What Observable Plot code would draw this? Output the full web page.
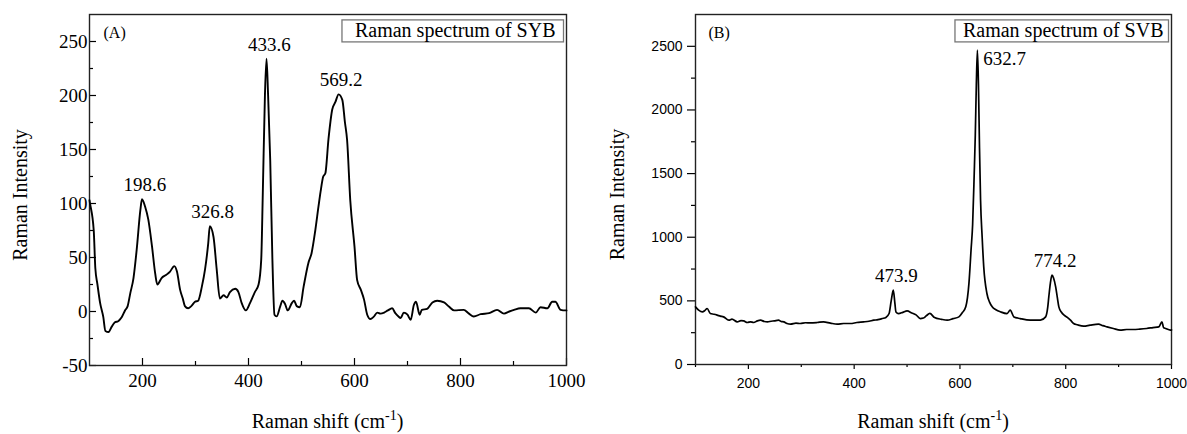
<!DOCTYPE html>
<html>
<head>
<meta charset="utf-8">
<script src="https://cdn.jsdelivr.net/npm/d3@7"></script>
<script src="https://cdn.jsdelivr.net/npm/@observablehq/plot@0.6"></script>
<style>
  html, body { margin: 0; padding: 0; background: white; }
  #wrap { position: relative; width: 1187px; height: 434px; overflow: hidden; background: white; }
  #wrap svg { position: absolute; top: 0; }
  #wrap svg text.serif { font-family: 'Liberation Serif', serif; }
</style>
</head>
<body>
<div id="wrap"></div>
<script>
// ---------- Data: panel A (SYB) ----------
const shiftA = [100,101,108,111,115,120,126,130,136,142,148,154,158,161,167,172,177,183,189,196,199,205,211,218,224,228,236,245,252,260,265,271,276,280,286,292,299,305,312,318,324,327,334,340,346,353,359,365,375,381,387,395,403,412,419,424,427,431,434,437,441,445,449,453,460,464,469,474,482,486,491,497,504,513,519,526,532,536,541,545,551,558,564,570,577,582,586,592,600,605,612,618,624,630,636,643,649,656,663,671,677,683,687,693,700,706,712,716,723,727,737,747,756,769,778,788,806,816,825,838,854,869,882,892,901,913,929,942,951,964,973,979,989,998,1000];
const intensityA = [103,100,75,40,25,8,-5,-18,-19,-14,-10,-9,-7,-5,1,5,17,31,57,94,104,97,85,60,35,25,31,34,37,42,37,20,12,5,3,5,9,10,23,39,63,79,69,39,12,15,13,18,21,18,8,1,8,18,25,48,110,200,234,200,140,50,-3,-4.5,5,10,7,1,8,10,5,4,23,45,54,75,97,111,125,128,160,187,194,201,196,175,159,103,60,29,20,11,-3,-7,-5,-1,-2,-1,1,3,-1.5,-4.6,-6,-1,-3,-7.7,6,9,-3,1.5,2.5,8.4,10,8.4,4.6,1,1.5,-2,-4.6,-2.5,-1.5,1.5,-2,0,1.5,3,3,-1,4,3,9,9,1.5,1,1];
const peakXA = [198.6, 326.8, 433.6, 569.2];
const peakYA = [104, 79, 234, 201];
const peakLabelA = ["198.6", "326.8", "433.6", "569.2"];
const xTicksA = [200, 400, 600, 800, 1000];
const xMinorA = [300, 500, 700, 900];
const yTicksA = [-50, 0, 50, 100, 150, 200, 250];
const yMinorA = [-25, 25, 75, 125, 175, 225];
const titleA = "Raman spectrum of SYB";
const panelA = "(A)";

// ---------- Data: panel B (SVB) ----------
const shiftB = [100,106,113,118,122,128,135,141,147,153,163,169,179,186,191,198,204,210,217,223,230,236,243,249,257,262,267,273,280,290,298,308,317,330,342,355,368,380,393,405,418,428,437,445,453,460,466,470,474,477,479,484,492,500,509,517,525,531,537,543,552,565,576,587,598,605,611,617,621,624,627,629,631,633,635,637,639,642,645,651,656,661,668,677,689,695,702,714,733,752,762,766,768,771,774,777,781,784,787,792,797,803,809,815,822,834,846,862,870,878,890,903,915,928,940,953,965,976,982,985,989,998,1000];
const intensityB = [453,427,413,425,440,401,395,388,380,374,348,356,335,345,343,330,335,330,343,348,338,335,340,343,348,338,335,322,317,325,322,328,327,330,335,325,317,322,322,330,335,340,348,352,361,370,401,500,584,480,413,400,410,421,405,390,361,365,385,401,369,355,348,360,374,410,453,637,900,1100,1500,1800,2200,2470,2200,1700,1291,1000,767,558,490,453,430,413,400,427,374,361,348,348,374,450,531,640,702,680,610,530,453,410,387,370,348,322,312,301,309,317,305,296,283,270,275,275,278,283,290,296,335,290,283,270,272];
const peakXB = [473.9, 774.2];
const peakYB = [584, 702];
const peakLabelB = ["473.9", "774.2"];
const sidePeakXB = [632.7];
const sidePeakYB = [2470];
const sidePeakLabelB = ["632.7"];
const xTicksB = [200, 400, 600, 800, 1000];
const xMinorB = [100, 300, 500, 700, 900];
const yTicksB = [0, 500, 1000, 1500, 2000, 2500];
const yMinorB = [250, 750, 1250, 1750, 2250];
const titleB = "Raman spectrum of SVB";
const panelB = "(B)";

const yLabel = "Raman Intensity";
const xLabelMain = "Raman shift (cm";
const xLabelSup = "-1";
const xLabelEnd = ")";

const serif = "'Liberation Serif', 'Times New Roman', serif";
const sans = "'Liberation Sans', Arial, sans-serif";
const fmt = d => String(d);

const specA = shiftA.map((s, i) => ({shift: s, intensity: intensityA[i]}));
const specB = shiftB.map((s, i) => ({shift: s, intensity: intensityB[i]}));
const peaksA = peakXA.map((x, i) => ({x, y: peakYA[i], t: peakLabelA[i]}));
const peaksB = peakXB.map((x, i) => ({x, y: peakYB[i], t: peakLabelB[i]}));
const sidePeaksB = sidePeakXB.map((x, i) => ({x, y: sidePeakYB[i], t: sidePeakLabelB[i]}));

const wrap = document.getElementById("wrap");

const plotA = Plot.plot({
  width: 600, height: 434,
  marginLeft: 89, marginRight: 34, marginTop: 14, marginBottom: 69,
  x: {domain: [100, 1000]},
  y: {domain: [-50, 275]},
  style: {fontFamily: serif, fontSize: "19px", color: "black", background: "white", overflow: "visible"},
  marks: [
    Plot.axisX({ticks: xTicksA, tickSize: -7, tickPadding: 15, tickFormat: fmt, fontFamily: serif, fontSize: 19, label: null, strokeWidth: 1.2}),
    Plot.axisX({ticks: xMinorA, tickSize: -4, tickFormat: () => "", label: null, strokeWidth: 1.2}),
    Plot.axisY({ticks: yTicksA, tickSize: -7, tickPadding: 9, tickFormat: fmt, fontFamily: serif, fontSize: 19, label: null, strokeWidth: 1.2}),
    Plot.axisY({ticks: yMinorA, tickSize: -4, tickFormat: () => "", label: null, strokeWidth: 1.2}),
    Plot.frame({stroke: "#222", strokeWidth: 1.4}),
    Plot.line(specA, {x: "shift", y: "intensity", stroke: "black", strokeWidth: 1.9, curve: "monotone-x"}),
    Plot.text(peaksA, {x: "x", y: "y", text: "t", dy: -8, dx: 3, lineAnchor: "bottom", fontFamily: serif, fontSize: 19}),
    Plot.text([panelA], {frameAnchor: "top-left", dx: 14, dy: 18, textAnchor: "start", lineAnchor: "middle", fontFamily: serif, fontSize: 16}),
    Plot.text([titleA], {frameAnchor: "top-right", dx: -11, dy: 16, textAnchor: "end", lineAnchor: "middle", fontFamily: serif, fontSize: 20}),
    Plot.text([yLabel], {frameAnchor: "left", dx: -69, dy: 5, rotate: -90, textAnchor: "middle", lineAnchor: "middle", fontFamily: serif, fontSize: 20})
  ]
});
plotA.style.left = "0px";
wrap.appendChild(plotA);

const plotB = Plot.plot({
  width: 587, height: 434,
  marginLeft: 95, marginRight: 16, marginTop: 14, marginBottom: 70,
  x: {domain: [100, 1000]},
  y: {domain: [0, 2750]},
  style: {fontFamily: serif, fontSize: "14px", color: "black", background: "white", overflow: "visible"},
  marks: [
    Plot.axisX({ticks: xTicksB, tickSize: 5, tickPadding: 9, tickFormat: fmt, fontFamily: sans, fontSize: 14, label: null, strokeWidth: 1.2}),
    Plot.axisX({ticks: xMinorB, tickSize: 3, tickFormat: () => "", label: null, strokeWidth: 1.2}),
    Plot.axisY({ticks: yTicksB, tickSize: 8, tickPadding: 5, tickFormat: fmt, fontFamily: sans, fontSize: 14, label: null, strokeWidth: 1.2}),
    Plot.axisY({ticks: yMinorB, tickSize: 4, tickFormat: () => "", label: null, strokeWidth: 1.2}),
    Plot.frame({stroke: "#222", strokeWidth: 1.4}),
    Plot.line(specB, {x: "shift", y: "intensity", stroke: "black", strokeWidth: 1.7, curve: "monotone-x"}),
    Plot.text(peaksB, {x: "x", y: "y", text: "t", dy: -8, dx: 3, lineAnchor: "bottom", fontFamily: serif, fontSize: 19}),
    Plot.text(sidePeaksB, {x: "x", y: "y", text: "t", dx: 6, dy: 9, textAnchor: "start", lineAnchor: "middle", fontFamily: serif, fontSize: 19}),
    Plot.text([panelB], {frameAnchor: "top-left", dx: 13, dy: 18, textAnchor: "start", lineAnchor: "middle", fontFamily: serif, fontSize: 16}),
    Plot.text([titleB], {frameAnchor: "top-right", dx: -8, dy: 16, textAnchor: "end", lineAnchor: "middle", fontFamily: serif, fontSize: 20}),
    Plot.text([yLabel], {frameAnchor: "left", dx: -78, dy: 5, rotate: -90, textAnchor: "middle", lineAnchor: "middle", fontFamily: serif, fontSize: 20})
  ]
});
plotB.style.left = "600px";
wrap.appendChild(plotB);

// legend boxes around the titles
function boxTitle(svg, title, padL, padR) {
  d3.select(svg).selectAll("text").filter(function() { return this.textContent === title; }).each(function() {
    const bb = this.getBBox();
    const rect = document.createElementNS("http://www.w3.org/2000/svg", "rect");
    rect.setAttribute("x", bb.x - padL);
    rect.setAttribute("y", bb.y + 1);
    rect.setAttribute("width", bb.width + padL + padR);
    rect.setAttribute("height", bb.height - 1);
    rect.setAttribute("fill", "white");
    rect.setAttribute("stroke", "#777");
    rect.setAttribute("stroke-width", "1.3");
    const tr = this.getAttribute("transform");
    if (tr) rect.setAttribute("transform", tr);
    this.parentNode.insertBefore(rect, this);
  });
}
boxTitle(plotA, titleA, 13, 8);
boxTitle(plotB, titleB, 8, 5);

// x-axis titles with superscript
function xTitle(svg, cx, y) {
  const t = d3.select(svg).append("text")
    .attr("class", "serif")
    .attr("x", cx).attr("y", y)
    .attr("text-anchor", "middle")
    .attr("font-size", 20)
    .attr("fill", "black");
  t.append("tspan").text(xLabelMain);
  t.append("tspan").attr("dy", -8).attr("font-size", 14).text(xLabelSup);
  t.append("tspan").attr("dy", 8).text(xLabelEnd);
}
xTitle(plotA, 327.5, 428);
xTitle(plotB, 333, 428);
</script>
</body>
</html>
